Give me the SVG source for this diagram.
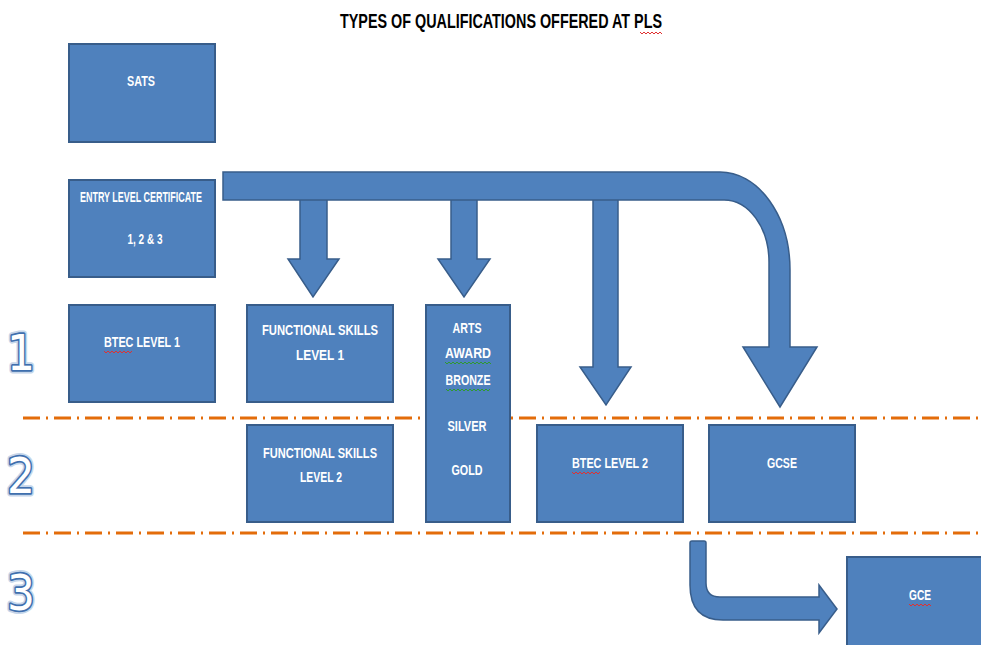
<svg xmlns="http://www.w3.org/2000/svg" width="981" height="645" viewBox="0 0 981 645">
<defs>
<style>
.box{fill:#4F81BD;stroke:#385D8A;stroke-width:2}
.arr{fill:#4F81BD;stroke:#385D8A;stroke-width:1.5;stroke-linejoin:miter}
.lbl{font-family:"Liberation Sans",Arial,sans-serif;font-weight:bold;font-size:14px;fill:#FFFFFF;text-anchor:middle}
.title{font-family:"Liberation Sans",Arial,sans-serif;font-weight:bold;font-size:20px;fill:#000000;text-anchor:middle}
.sep{fill:none;stroke:#E36C0A;stroke-width:3;stroke-dasharray:17 6 2 6}
.num{font-family:"DejaVu Sans","Liberation Sans",sans-serif;font-size:50px;text-anchor:middle}
.glow{fill:none;stroke:#C6D6EA;stroke-width:7;stroke-linejoin:round}
.edge{fill:none;stroke:#3F6FAE;stroke-width:3.5;stroke-linejoin:round}
.face{fill:#FFFFFF;stroke:none}
.sqr{fill:none;stroke:#E03030;stroke-width:1}
.sqg{fill:none;stroke:#2E9A2E;stroke-width:1}
</style>
</defs>
<rect width="981" height="645" fill="#FFFFFF"/>

<text class="title" x="501" y="28" textLength="322" lengthAdjust="spacingAndGlyphs">TYPES OF QUALIFICATIONS OFFERED AT PLS</text>

<g id="separators">
<line class="sep" x1="23" y1="418" x2="978" y2="418"/>
<line class="sep" x1="23" y1="533" x2="978" y2="533"/>
</g>

<g id="level-numbers">
<g id="num-1">
<text class="num glow" x="21" y="370" textLength="28" lengthAdjust="spacingAndGlyphs">1</text>
<text class="num edge" x="21" y="370" textLength="28" lengthAdjust="spacingAndGlyphs">1</text>
<text class="num face" x="21" y="370" textLength="28" lengthAdjust="spacingAndGlyphs">1</text>
</g>
<g id="num-2">
<text class="num glow" x="21" y="493" textLength="28" lengthAdjust="spacingAndGlyphs">2</text>
<text class="num edge" x="21" y="493" textLength="28" lengthAdjust="spacingAndGlyphs">2</text>
<text class="num face" x="21" y="493" textLength="28" lengthAdjust="spacingAndGlyphs">2</text>
</g>
<g id="num-3">
<text class="num glow" x="21" y="610" textLength="28" lengthAdjust="spacingAndGlyphs">3</text>
<text class="num edge" x="21" y="610" textLength="28" lengthAdjust="spacingAndGlyphs">3</text>
<text class="num face" x="21" y="610" textLength="28" lengthAdjust="spacingAndGlyphs">3</text>
</g>
</g>

<g id="connectors">
<path class="arr" d="M300,198 L327,198 L327,259 L339,259 L313,297 L288,259 L300,259 Z"/>
<path class="arr" d="M451,198 L477,198 L477,259 L490,259 L464,297 L438,259 L451,259 Z"/>
<path class="arr" d="M593,198 L618,198 L618,367 L631,367 L606,405 L580,367 L593,367 Z"/>
<path class="arr" d="M223,172 L720,172 A70,98 0 0 1 790,270 L790,347 L817,347 L780,407 L743,347 L769,347 L769,262 A45,62 0 0 0 724,200 L223,200 Z"/>
<path class="arr" d="M692,541 L704,541 Q706,541 706,543 L706,583 Q706,597 720,597 L819,597 L819,585 L837,609 L819,633 L819,620 L723,620 Q690,620 690,585 L690,543 Q690,541 692,541 Z"/>
</g>

<g id="sats">
<rect class="box" x="69" y="44" width="146" height="98"/>
<text class="lbl" x="141" y="86" textLength="28" lengthAdjust="spacingAndGlyphs">SATS</text>
</g>
<g id="entry-level">
<rect class="box" x="69" y="180" width="146" height="97"/>
<text class="lbl" x="141" y="202" textLength="122" lengthAdjust="spacingAndGlyphs">ENTRY LEVEL CERTIFICATE</text>
<text class="lbl" x="145" y="244" textLength="35" lengthAdjust="spacingAndGlyphs">1, 2 &amp; 3</text>
</g>
<g id="btec-level-1">
<rect class="box" x="69" y="305" width="146" height="97"/>
<text class="lbl" x="142" y="347" textLength="76" lengthAdjust="spacingAndGlyphs">BTEC LEVEL 1</text>
</g>
<g id="functional-skills-1">
<rect class="box" x="247" y="305" width="146" height="97"/>
<text class="lbl" x="320" y="335" textLength="116" lengthAdjust="spacingAndGlyphs">FUNCTIONAL SKILLS</text>
<text class="lbl" x="320" y="360" textLength="48" lengthAdjust="spacingAndGlyphs">LEVEL 1</text>
</g>
<g id="arts-award">
<rect class="box" x="426" y="305" width="84" height="217"/>
<text class="lbl" x="467" y="333" textLength="29" lengthAdjust="spacingAndGlyphs">ARTS</text>
<text class="lbl" x="468" y="358" textLength="46" lengthAdjust="spacingAndGlyphs">AWARD</text>
<text class="lbl" x="468" y="385" textLength="45" lengthAdjust="spacingAndGlyphs">BRONZE</text>
<text class="lbl" x="467" y="431" textLength="39" lengthAdjust="spacingAndGlyphs">SILVER</text>
<text class="lbl" x="467" y="475" textLength="31" lengthAdjust="spacingAndGlyphs">GOLD</text>
</g>
<g id="functional-skills-2">
<rect class="box" x="247" y="425" width="146" height="97"/>
<text class="lbl" x="320" y="458" textLength="114" lengthAdjust="spacingAndGlyphs">FUNCTIONAL SKILLS</text>
<text class="lbl" x="321" y="482" textLength="42" lengthAdjust="spacingAndGlyphs">LEVEL 2</text>
</g>
<g id="btec-level-2">
<rect class="box" x="537" y="425" width="146" height="97"/>
<text class="lbl" x="610" y="468" textLength="76" lengthAdjust="spacingAndGlyphs">BTEC LEVEL 2</text>
</g>
<g id="gcse">
<rect class="box" x="709" y="425" width="146" height="97"/>
<text class="lbl" x="782" y="468" textLength="30" lengthAdjust="spacingAndGlyphs">GCSE</text>
</g>
<g id="gce">
<rect class="box" x="847" y="557" width="140" height="95"/>
<text class="lbl" x="920" y="600" textLength="22" lengthAdjust="spacingAndGlyphs">GCE</text>
</g>

<g id="spellcheck-marks">
<path class="sqr" d="M640,32 l2,2 l2,-2 l2,2 l2,-2 l2,2 l2,-2 l2,2 l2,-2 l2,2 l2,-2 l2,2"/>
<path class="sqg" d="M445,362 l2,2 l2,-2 l2,2 l2,-2 l2,2 l2,-2 l2,2 l2,-2 l2,2 l2,-2 l2,2 l2,-2 l2,2 l2,-2 l2,2 l2,-2 l2,2 l2,-2 l2,2 l2,-2 l2,2 l2,-2 l2,2"/>
<path class="sqg" d="M446,389 l2,2 l2,-2 l2,2 l2,-2 l2,2 l2,-2 l2,2 l2,-2 l2,2 l2,-2 l2,2 l2,-2 l2,2 l2,-2 l2,2 l2,-2 l2,2 l2,-2 l2,2 l2,-2 l2,2 l2,-2"/>
<path class="sqr" d="M104,351 l2,2 l2,-2 l2,2 l2,-2 l2,2 l2,-2 l2,2 l2,-2 l2,2 l2,-2 l2,2 l2,-2 l2,2 l2,-2"/>
<path class="sqr" d="M572,472 l2,2 l2,-2 l2,2 l2,-2 l2,2 l2,-2 l2,2 l2,-2 l2,2 l2,-2 l2,2 l2,-2 l2,2 l2,-2"/>
<path class="sqr" d="M909,604 l2,2 l2,-2 l2,2 l2,-2 l2,2 l2,-2 l2,2 l2,-2 l2,2 l2,-2 l2,2"/>
</g>
</svg>
